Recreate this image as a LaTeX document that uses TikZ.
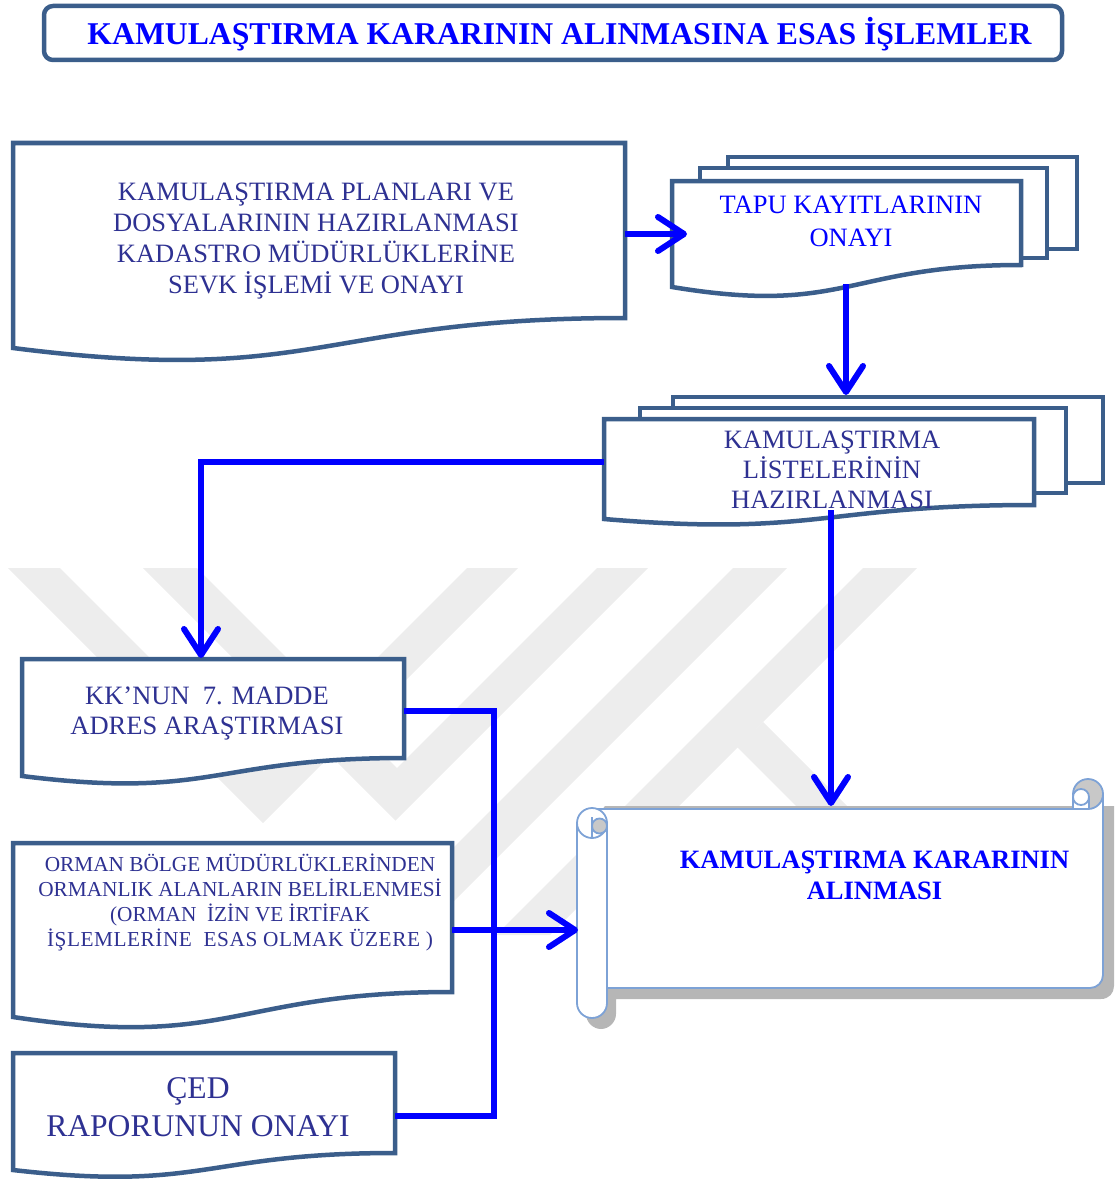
\documentclass[tikz,border=0pt]{standalone}
\usepackage{fontspec}
\setmainfont{Liberation Serif}
\usetikzlibrary{arrows.meta}

\definecolor{boxline}{RGB}{59,94,139}
\definecolor{txtind}{RGB}{46,49,146}
\definecolor{flow}{RGB}{0,0,255}
\definecolor{scrollline}{RGB}{125,162,214}
\definecolor{rollgray}{RGB}{200,200,200}
\definecolor{rollshadow}{RGB}{182,182,182}
\definecolor{emblem}{RGB}{237,237,237}

\tikzset{
  docbox/.style={draw=boxline, line width=4.5pt, fill=white, line join=miter},
  flowline/.style={draw=flow, line width=6pt},
  flowarrow/.style={flowline, -{Straight Barb[length=26pt,width=34pt,round]}},
  lbl/.style={align=center, text=txtind, inner sep=0pt},
  rollline/.style={draw=scrollline, line width=1.8pt},
}

% document shape: flat top, wavy bottom  {x1}{y1}{x2}{yRight}{yLeft}{yCtrl}
\newcommand\docshape[6]{%
  \path[docbox] (#1,#2) -- (#3,#2) -- (#3,#4)
    .. controls ({(#1+#3)/2},#4) and ({(#1+#3)/2},#6) .. (#1,#5) -- cycle;}

\begin{document}
\begin{tikzpicture}[x=1pt,y=-1pt]
\useasboundingbox (0,0) rectangle (1118,1180);

% faint background emblem
\begin{scope}[fill=emblem]
  \fill (8,568) -- (60,568) -- (263.5,771.5) -- (467,568) -- (518,568) -- (263,823) -- cycle;
  \fill (143,568) -- (197,568) -- (397,768) -- (597,568) -- (648,568) -- (395.5,820.5) -- cycle;
  \fill (733,568) -- (787,568) -- (420,935) -- (366,935) -- cycle;
  \fill (863,568) -- (917,568) -- (550,935) -- (496,935) -- cycle;
  \fill (763,722) -- (871,830) -- (820,830) -- (737,747) -- cycle;
\end{scope}

% title
\node[draw=boxline, line width=4.5pt, rounded corners=9pt, minimum width=1018pt,
      minimum height=54pt, inner sep=0pt] (titleframe) at (553,33) {};
\node[inner sep=0pt, text=flow, font=\bfseries\fontsize{31.7}{36}\selectfont]
      (title) at (559.5,34) {KAMULAŞTIRMA KARARININ ALINMASINA ESAS İŞLEMLER};

% plans and files
\docshape{13}{143}{625}{318}{348}{387}
\node[lbl, font=\fontsize{26.5}{31}\selectfont] (plan) at (316,241)
  {KAMULAŞTIRMA PLANLARI VE\\DOSYALARININ HAZIRLANMASI\\KADASTRO MÜDÜRLÜKLERİNE\\SEVK İŞLEMİ VE ONAYI};

% land registry records (stacked documents)
\path[docbox] (728,157) rectangle (1077,249);
\path[docbox] (700,168) rectangle (1047,258);
\docshape{672}{181}{1021}{265}{287}{316}
\node[lbl, text=flow, font=\fontsize{26.5}{33}\selectfont] (tapu) at (851,221)
  {TAPU KAYITLARININ\\ONAYI};

% expropriation lists (stacked documents)
\path[docbox] (673,397) rectangle (1103,483);
\path[docbox] (640,408) rectangle (1066,493);
\docshape{604}{419}{1034}{505}{519}{537}
\node[lbl, font=\fontsize{26.5}{30}\selectfont] (list) at (832,470)
  {KAMULAŞTIRMA\\LİSTELERİNİN\\HAZIRLANMASI};

% address research
\docshape{22}{659}{404}{758}{776}{800}
\node[lbl, font=\fontsize{26.5}{31}\selectfont] (kk) at (207,713.5)
  {KK’NUN\ \ 7. MADDE\\ADRES ARAŞTIRMASI};

% forest areas
\docshape{13}{843}{452}{992}{1017}{1050}
\node[lbl, font=\fontsize{21.3}{25.3}\selectfont] (orman) at (240,902.5)
  {ORMAN BÖLGE MÜDÜRLÜKLERİNDEN\\ORMANLIK ALANLARIN BELİRLENMESİ\\(ORMAN\ \ İZİN VE İRTİFAK\\{\addfontfeature{LetterSpace=2.5}İŞLEMLERİNE\ \ ESAS OLMAK ÜZERE )}};

% EIA report
\docshape{13}{1053}{395}{1153}{1170}{1192}
\node[lbl, font=\fontsize{31.6}{38}\selectfont] (ced) at (198,1107)
  {ÇED\\RAPORUNUN ONAYI};

% decision scroll: shadow
\fill[rollshadow] (605,806) -- (1114,806) -- (1114,986)
  .. controls (1114,993) and (1109,999) .. (1101,999) -- (616,999) -- (616,1014)
  .. controls (616,1022) and (609,1029) .. (601,1029)
  .. controls (593,1029) and (586,1022) .. (586,1014) -- (586,830) -- cycle;
% body
\path[fill=white] (592,809) -- (1089,809) -- (1103,794) -- (1103,975)
  .. controls (1103,982.2) and (1097.2,988) .. (1090,988) -- (607,988) -- (592,988) -- cycle;
\draw[rollline] (592,809) -- (1089,809);
\draw[rollline] (1103,794) -- (1103,975)
  .. controls (1103,982.2) and (1097.2,988) .. (1090,988) -- (607,988);
% left roll
\path[rollline, fill=white, rounded corners=14.9pt] (577,823) -- (577,1018) -- (607,1018) -- (607,823);
\path[rollline, fill=white] (592,823) circle[radius=15pt];
\path[rollline, fill=rollgray] (599.5,826) circle[radius=7.5pt];
\draw[rollline] (592,817) -- (592,838);
% right roll
\path[rollline, fill=rollgray] (1088,794) circle[radius=15pt];
\path[fill=white] (1073,797) rectangle (1089,808);
\path[rollline, fill=white] (1081,797) circle[radius=8pt];
\draw[rollline] (1073,797) -- (1073,809);
\draw[rollline] (1089,797) -- (1089,809);
\node[inner sep=0pt, align=center, text=flow, font=\bfseries\fontsize{26.5}{31}\selectfont]
  (decision) at (874.5,875.5) {KAMULAŞTIRMA KARARININ\\ALINMASI};

% connector end points
\coordinate (planE) at (625,234);
\coordinate (tapuW) at (687,234);
\coordinate (tapuS) at (846,284);
\coordinate (listN) at (846,395);
\coordinate (listW) at (604,462);
\coordinate (kkN) at (201,658);
\coordinate (listS) at (831,510);
\coordinate (scrollN) at (831,806);
\coordinate (kkE) at (404,711);
\coordinate (busS) at (494,1116);
\coordinate (cedE) at (395,1116);
\coordinate (ormanE) at (452,930);
\coordinate (scrollW) at (578,930);

% connectors
\draw[flowarrow] (planE) -- (tapuW);
\draw[flowarrow] (tapuS) -- (listN);
\draw[flowarrow] (listW) -| (kkN);
\draw[flowarrow] (listS) -- (scrollN);
\draw[flowline] (kkE) -| (busS) -- (cedE);
\draw[flowarrow] (ormanE) -- (scrollW);
\end{tikzpicture}
\end{document}
